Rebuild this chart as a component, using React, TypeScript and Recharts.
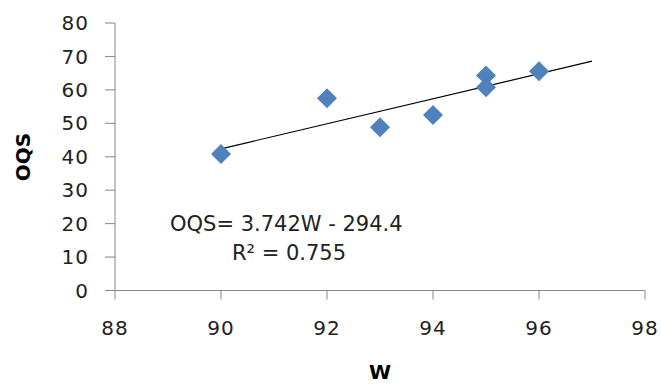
import React from 'react';
import {
  ScatterChart,
  Scatter,
  XAxis,
  YAxis,
  ReferenceLine,
  Customized,
} from 'recharts';

const W_VALUES = [90, 92, 93, 94, 95, 95, 96];
const OQS_VALUES = [40.8, 57.5, 48.8, 52.5, 64.3, 60.8, 65.6];
const X_TICKS = [88, 90, 92, 94, 96, 98];
const Y_TICKS = [0, 10, 20, 30, 40, 50, 60, 70, 80];
const TREND_SLOPE = 3.742;
const TREND_INTERCEPT = -294.4;
const TREND_X = [90, 97];
const EQUATION_TEXT = 'OQS= 3.742W - 294.4';
const R2_TEXT = 'R² = 0.755';
const X_TITLE = 'W';
const Y_TITLE = 'OQS';

const points = W_VALUES.map((w, i) => ({ w, oqs: OQS_VALUES[i] }));
const trendSegment = TREND_X.map((x) => ({ x, y: TREND_SLOPE * x + TREND_INTERCEPT }));

const FONT = 'DejaVu Sans';
const AXIS_COLOR = '#868686';
const MARK_COLOR = '#4F81BD';

const Diamond = (props: any) => {
  const { cx, cy } = props;
  if (cx == null || cy == null) return null;
  const r = 10;
  return (
    <polygon
      points={`${cx},${cy - r} ${cx + r},${cy} ${cx},${cy + r} ${cx - r},${cy}`}
      fill={MARK_COLOR}
    />
  );
};

const Annotations = () => (
  <g fontFamily={FONT} fontSize={21} fill="#222">
    <text x={170} y={231}>{EQUATION_TEXT}</text>
    <text x={232} y={260}>{R2_TEXT}</text>
  </g>
);

export default function App() {
  return (
    <div style={{ position: 'absolute', left: 0, top: 0, width: 661, height: 386, background: '#fff' }}>
      <ScatterChart
        width={661}
        height={386}
        margin={{ top: 23, right: 16, bottom: 0, left: 0 }}
      >
        <XAxis
          type="number"
          dataKey="w"
          domain={[88, 98]}
          ticks={X_TICKS}
          interval={0}
          allowDataOverflow
          height={95.5}
          stroke={AXIS_COLOR}
          tickSize={9}
          tickMargin={21}
          tick={{ fontFamily: FONT, fontSize: 20, fill: '#222', letterSpacing: 1 }}
          label={(p: any) => {
            const vb = p.viewBox;
            return (
              <text
                x={vb.x + vb.width / 2}
                y={379}
                textAnchor="middle"
                fontFamily={FONT}
                fontSize={20}
                fontWeight="bold"
                fill="#000"
              >
                {X_TITLE}
              </text>
            );
          }}
        />
        <YAxis
          type="number"
          dataKey="oqs"
          domain={[0, 80]}
          ticks={Y_TICKS}
          interval={0}
          allowDataOverflow
          width={115}
          stroke={AXIS_COLOR}
          tickSize={10}
          tickMargin={16}
          tick={{ fontFamily: FONT, fontSize: 20, fill: '#222', letterSpacing: 1 }}
          label={(p: any) => {
            const cy = 157;
            const cx = 23;
            return (
              <text
                x={cx}
                y={cy}
                transform={`rotate(-90 ${cx} ${cy})`}
                textAnchor="middle"
                dominantBaseline="central"
                fontFamily={FONT}
                fontSize={20}
                fontWeight="bold"
                fill="#000"
              >
                {Y_TITLE}
              </text>
            );
          }}
        />
        <ReferenceLine
          segment={trendSegment}
          stroke="#000"
          strokeWidth={1.2}
          ifOverflow="extendDomain"
        />
        <Scatter data={points} shape={Diamond} isAnimationActive={false} />
        <Customized component={Annotations} />
      </ScatterChart>
    </div>
  );
}
